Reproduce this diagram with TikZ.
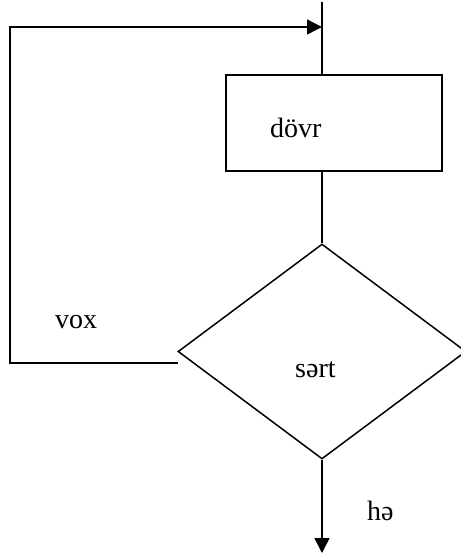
\documentclass[tikz,border=0pt]{standalone}
\usepackage{fontspec}
\setmainfont{Liberation Serif}
\usetikzlibrary{arrows.meta,shapes.geometric}
\begin{document}
\begin{tikzpicture}[x=1pt,y=-1pt,
  line/.style={line width=1.5pt},
  arr/.style={line, -{Triangle[length=15pt,width=15pt]}},
  lbl/.style={inner sep=0pt, anchor=base west, font=\fontsize{28}{32}\selectfont},
  blockbox/.style={draw, line width=1.5pt, rectangle, minimum width=216pt, minimum height=96pt, inner sep=0pt},
  decision/.style={draw, line width=1.5pt, diamond, minimum width=288pt, minimum height=215pt, inner sep=0pt}]
\useasboundingbox (0,0) rectangle (461,558);
% nodes
\node[blockbox] (box) at (334,123) {};
\node[decision] (dia) at (322,351.5) {};
\node[lbl] (tdovr) at (270,137) {dövr};
\node[lbl] (tsert) at (295,377) {sərt};
\node[lbl] (tvox) at (55,328) {vox};
\node[lbl] (the) at (367,520) {hə};
% coordinates
\coordinate (top) at (322,2);
\coordinate (join) at (322,27);
\coordinate (ltop) at (10,27);
\coordinate (lbot) at (10,363);
\coordinate (lend) at (178,363);
\coordinate (out) at (322,553);
% connectors
\draw[line] (top) -- (top |- box.north);
\draw[line] (top |- box.south) -- (dia.north);
\draw[arr] (lend) -- (lbot) -- (ltop) -- (join);
\draw[arr] (dia.south) -- (out);
\end{tikzpicture}
\end{document}
